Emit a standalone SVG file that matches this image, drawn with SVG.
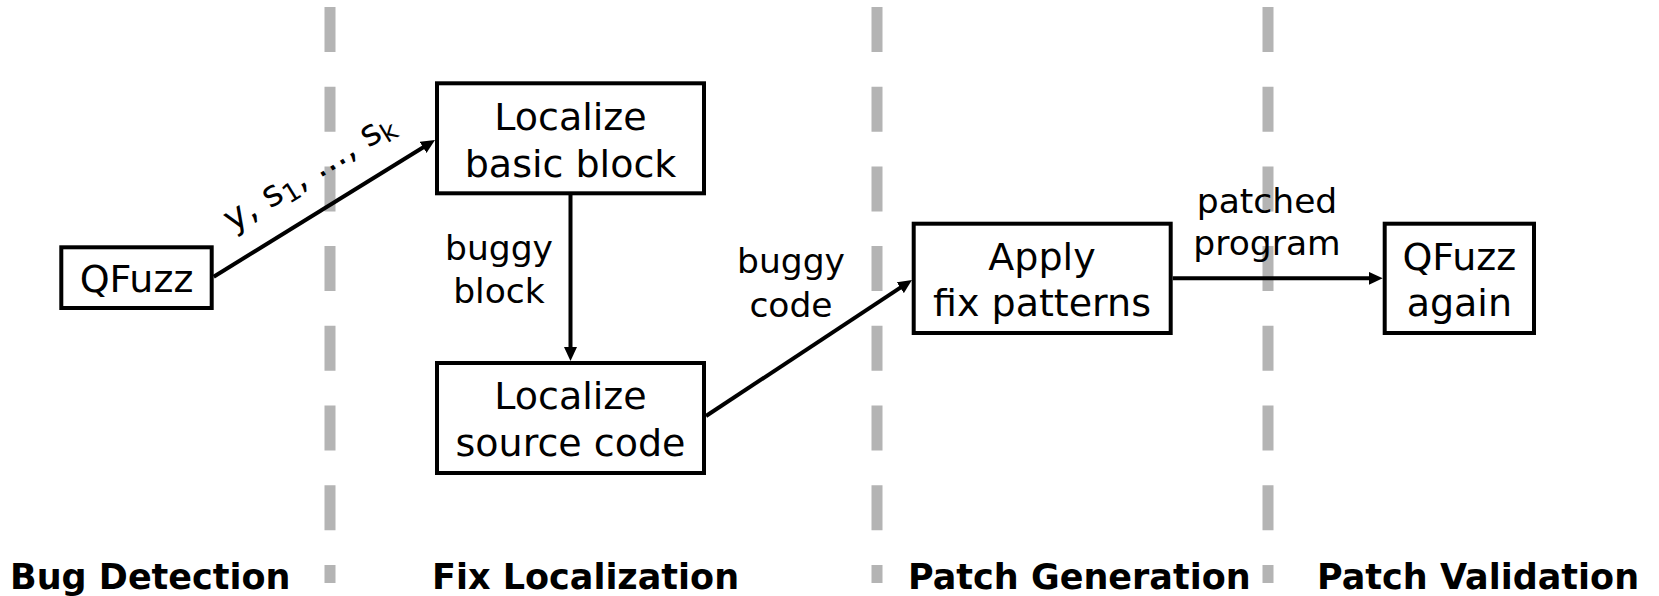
<svg xmlns="http://www.w3.org/2000/svg" width="1659" height="596" viewBox="0 0 1659 596">
<style>
.sep{stroke:#b4b4b4;stroke-width:11;stroke-dasharray:45 34.7;fill:none}
.box{fill:#fff;stroke:#000;stroke-width:4}
.nt{font-family:"DejaVu Sans","Liberation Sans",sans-serif;font-size:38px;fill:#000;text-anchor:middle}
.lt{font-family:"DejaVu Sans","Liberation Sans",sans-serif;font-size:34.5px;fill:#000;text-anchor:middle}
.ph{font-family:"DejaVu Sans","Liberation Sans",sans-serif;font-size:35px;font-weight:bold;fill:#000}
.edge{stroke:#000;stroke-width:4;fill:none;marker-end:url(#ah)}
</style>
<defs>
<marker id="ah" markerUnits="userSpaceOnUse" markerWidth="15" markerHeight="13" refX="6" refY="6.5" orient="auto">
<path d="M0,0 L14,6.5 L0,13 z" fill="#000"/>
</marker>
</defs>
<rect width="1659" height="596" fill="#fff"/>
<g id="separators">
<line class="sep" x1="330" y1="7" x2="330" y2="583"/>
<line class="sep" x1="877" y1="7" x2="877" y2="583"/>
<line class="sep" x1="1268" y1="7" x2="1268" y2="583"/>
</g>
<g id="connectors">
<line class="edge" x1="213.7" y1="276.7" x2="428.2" y2="144.2"/>
<line class="edge" x1="570.5" y1="195" x2="570.5" y2="353"/>
<line class="edge" x1="706" y1="416" x2="905.3" y2="284.4"/>
<line class="edge" x1="1172.7" y1="278.3" x2="1374.7" y2="278.3"/>
<text class="lt" style="font-size:36px" transform="translate(314.7,181.4) rotate(-31.7)">y, s<tspan font-size="26" dy="6">1</tspan><tspan dy="-6">, ..., s</tspan><tspan font-size="26" dy="6">k</tspan></text>
<text class="lt" x="499" y="260">buggy</text>
<text class="lt" x="499" y="303.3">block</text>
<text class="lt" x="791" y="273">buggy</text>
<text class="lt" x="791" y="316.7">code</text>
<text class="lt" x="1267" y="213.3">patched</text>
<text class="lt" x="1267" y="255">program</text>
</g>
<g id="qfuzz">
<rect class="box" x="61.3" y="247.3" width="150.4" height="60.7"/>
<text class="nt" x="136.5" y="291.7">QFuzz</text>
</g>
<g id="localize-bb">
<rect class="box" x="437" y="83.3" width="267" height="110"/>
<text class="nt" x="570.5" y="130">Localize</text>
<text class="nt" x="570.5" y="176.7">basic block</text>
</g>
<g id="localize-src">
<rect class="box" x="437" y="363" width="267" height="110"/>
<text class="nt" x="570.5" y="408.8">Localize</text>
<text class="nt" x="570.5" y="455.5">source code</text>
</g>
<g id="apply">
<rect class="box" x="913.7" y="223.7" width="257" height="109.3"/>
<text class="nt" x="1042" y="269.5">Apply</text>
<text class="nt" x="1042" y="316.2">fix patterns</text>
</g>
<g id="qfuzz-again">
<rect class="box" x="1384.7" y="223.7" width="149.3" height="109.3"/>
<text class="nt" x="1459.3" y="269.5">QFuzz</text>
<text class="nt" x="1459.3" y="316.2">again</text>
</g>
<g id="phases">
<text class="ph" x="10" y="589">Bug Detection</text>
<text class="ph" x="432" y="589">Fix Localization</text>
<text class="ph" x="908" y="589">Patch Generation</text>
<text class="ph" x="1317" y="589">Patch Validation</text>
</g>
</svg>
